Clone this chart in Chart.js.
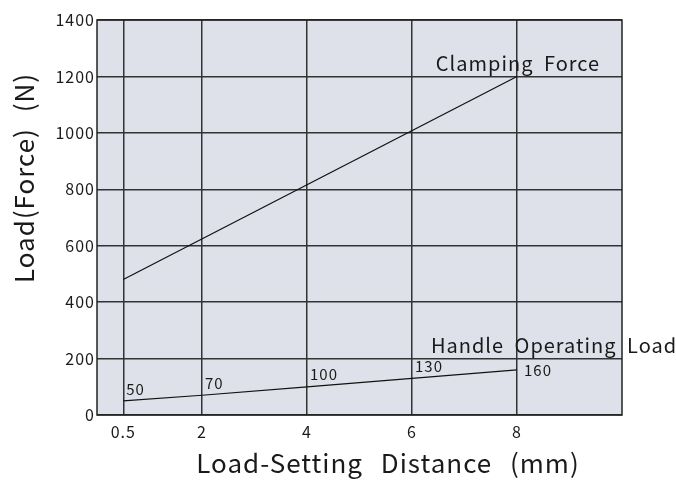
<!DOCTYPE html>
<html>
<head>
<meta charset="utf-8">
<script src="https://cdn.jsdelivr.net/npm/chart.js@4/dist/chart.umd.min.js"></script>
<style>
html,body{margin:0;padding:0;background:#fff;}
#wrap{width:676px;height:481px;position:relative;}
</style>
</head>
<body>
<div id="wrap"><canvas id="c" width="676" height="481"></canvas></div>
<script>
const xTicks = [0.5, 2, 4, 6, 8];
const clampX = [0.5, 8];
const clampY = [480, 1200];
const handleX = [0.5, 2, 4, 6, 8];
const handleY = [50, 70, 100, 130, 160];
const handleLabels = ['50', '70', '100', '130', '160'];
const seriesNames = ['Clamping Force', 'Handle Operating Load'];
const xTitle = 'Load-Setting Distance (mm)';
const yTitle = 'Load(Force) (N)';

const FONT = '"Noto Sans CJK JP", "Noto Sans", sans-serif';
const TXT = '#1a1a1a';

const bgPlugin = {
  id: 'bg',
  beforeDraw(chart) {
    const {ctx, chartArea: a} = chart;
    ctx.letterSpacing = '1px';
    ctx.save();
    ctx.fillStyle = '#dfe1ea';
    ctx.fillRect(a.left, a.top, a.right - a.left, a.bottom - a.top);
    ctx.restore();
  },
  afterDraw(chart) {
    const {ctx, chartArea: a, scales} = chart;
    ctx.save();
    ctx.strokeStyle = '#222';
    ctx.lineWidth = 1.5;
    ctx.strokeRect(a.left, a.top, a.right - a.left, a.bottom - a.top);
    // value labels
    ctx.fillStyle = TXT;
    ctx.letterSpacing = '1px';
    ctx.font = '15px ' + FONT;
    ctx.textBaseline = 'middle';
    ctx.textAlign = 'left';
    handleX.forEach((xv, i) => {
      const px = scales.x.getPixelForValue(xv);
      const py = scales.y.getPixelForValue(handleY[i]);
      if (i === handleX.length - 1) {
        ctx.fillText(handleLabels[i], px + 7, py);
      } else {
        ctx.fillText(handleLabels[i], px + 3, py - 12);
      }
    });
    // series names
    ctx.font = '20px ' + FONT;
    ctx.wordSpacing = '5px';
    ctx.textAlign = 'center';
    ctx.textBaseline = 'alphabetic';
    const cx = scales.x.getPixelForValue(clampX[clampX.length - 1]);
    const cy = scales.y.getPixelForValue(clampY[clampY.length - 1]);
    ctx.fillText(seriesNames[0], cx + 1, cy - 5);
    const hx = scales.x.getPixelForValue(handleX[handleX.length - 1]);
    const hy = scales.y.getPixelForValue(200);
    ctx.fillText(seriesNames[1], hx + 37, hy - 6);
    // axis titles
    ctx.font = '26px ' + FONT;
    ctx.wordSpacing = '11px';
    ctx.fillText(xTitle, 388, 473);
    ctx.wordSpacing = '9px';
    ctx.translate(34, 178);
    ctx.rotate(-Math.PI / 2);
    ctx.fillText(yTitle, 0, 0);
    ctx.restore();
  }
};

new Chart(document.getElementById('c'), {
  type: 'scatter',
  data: {
    datasets: [
      {
        label: seriesNames[0],
        data: clampX.map((x, i) => ({x, y: clampY[i]})),
        showLine: true, borderColor: '#111', borderWidth: 1.2, pointRadius: 0, fill: false
      },
      {
        label: seriesNames[1],
        data: handleX.map((x, i) => ({x, y: handleY[i]})),
        showLine: true, borderColor: '#111', borderWidth: 1.2, pointRadius: 0, fill: false
      }
    ]
  },
  options: {
    responsive: false,
    animation: false,
    devicePixelRatio: 1,
    layout: {padding: {top: 20, right: 54, left: 0, bottom: 0}},
    plugins: {legend: {display: false}, tooltip: {enabled: false}},
    scales: {
      x: {
        type: 'linear', min: 0, max: 10,
        afterBuildTicks(s) { s.ticks = xTicks.map(v => ({value: v})); },
        afterFit(s) { s.height = 66; },
        border: {display: false},
        grid: {color: '#333', lineWidth: 1.5, drawTicks: false},
        ticks: {color: TXT, padding: 7, font: {size: 16, family: FONT}, callback: v => String(v)},
        title: {display: false}
      },
      y: {
        type: 'linear', min: 0, max: 1400,
        afterFit(s) { s.width = 97; },
        border: {display: false},
        grid: {color: '#333', lineWidth: 1.5, drawTicks: false},
        ticks: {color: TXT, padding: 2, stepSize: 200, font: {size: 16, family: FONT}, callback: v => String(v)},
        title: {display: false}
      }
    }
  },
  plugins: [bgPlugin]
});
</script>
</body>
</html>
